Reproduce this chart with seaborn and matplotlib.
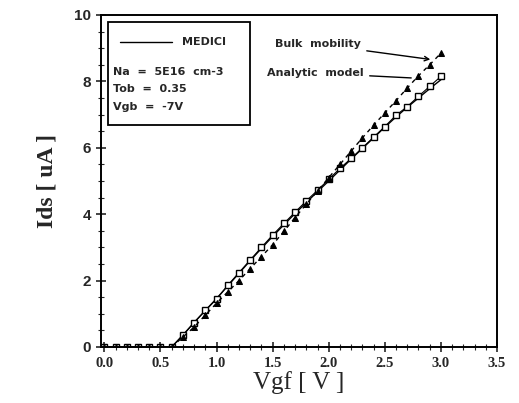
import numpy as np
import pandas as pd
import matplotlib
matplotlib.use("Agg")
import matplotlib.pyplot as plt
from matplotlib.lines import Line2D
from matplotlib.patches import Rectangle
from matplotlib.ticker import MultipleLocator
import seaborn as sns

# -----------------------------
# Data
# -----------------------------
vgf = [0.0, 0.1, 0.2, 0.3, 0.4, 0.5, 0.6, 0.7, 0.8, 0.9, 1.0,
       1.1, 1.2, 1.3, 1.4, 1.5, 1.6, 1.7, 1.8, 1.9, 2.0,
       2.1, 2.2, 2.3, 2.4, 2.5, 2.6, 2.7, 2.8, 2.9, 3.0]

ids_medici = [0.0, 0.0, 0.0, 0.0, 0.0, 0.0, 0.0, 0.36, 0.74, 1.1, 1.46,
              1.84, 2.22, 2.6, 2.97, 3.33, 3.68, 4.02, 4.35, 4.68, 5.0,
              5.33, 5.66, 5.98, 6.3, 6.62, 6.93, 7.22, 7.5, 7.78, 8.05]

ids_analytic = [0.0, 0.0, 0.0, 0.0, 0.0, 0.0, 0.0, 0.35, 0.73, 1.1, 1.44,
                1.86, 2.24, 2.62, 3.0, 3.37, 3.72, 4.06, 4.4, 4.72, 5.05,
                5.38, 5.68, 6.0, 6.32, 6.64, 6.98, 7.24, 7.55, 7.85, 8.15]

ids_bulk = [0.0, 0.0, 0.0, 0.0, 0.0, 0.0, 0.0, 0.3, 0.6, 0.96, 1.32,
            1.66, 2.0, 2.36, 2.72, 3.08, 3.48, 3.9, 4.3, 4.7, 5.1,
            5.5, 5.9, 6.3, 6.68, 7.05, 7.42, 7.8, 8.17, 8.5, 8.85]

legend_notes = ["Na  =  5E16  cm-3", "Tob  =  0.35", "Vgb  =  -7V"]

# -----------------------------
# Plot
# -----------------------------
sns.set_style("ticks")
plt.rcParams["font.family"] = ["DejaVu Sans"]

fig = plt.figure(figsize=(5.19, 4.03), dpi=100)
ax = fig.add_axes([0.1946, 0.139, 0.763, 0.8238])

sns.lineplot(x=vgf, y=ids_medici, ax=ax, color="black", linewidth=1.0)
sns.lineplot(x=vgf, y=ids_analytic, ax=ax, color="black", linewidth=0.8,
             marker="s", markersize=5, markerfacecolor="white",
             markeredgecolor="black", markeredgewidth=1.0)
sns.lineplot(x=vgf, y=ids_bulk, ax=ax, color="black", linewidth=1.0,
             linestyle=(0, (3, 3)), marker="^", markersize=5,
             markerfacecolor="black", markeredgecolor="black")

ax.set_xlim(-0.03, 3.5)
ax.set_ylim(0, 10)
ax.xaxis.set_minor_locator(MultipleLocator(0.1))
ax.yaxis.set_minor_locator(MultipleLocator(0.5))
ax.tick_params(which="major", direction="inout", length=7, width=1.2)
ax.tick_params(which="minor", direction="inout", length=4, width=0.8)
for sp in ax.spines.values():
    sp.set_linewidth(1.4)
    sp.set_color("black")

ax.set_xticks([0, 0.5, 1.0, 1.5, 2.0, 2.5, 3.0, 3.5])
ax.set_xticklabels(["0.0", "0.5", "1.0", "1.5", "2.0", "2.5", "3.0", "3.5"],
                   family=["Liberation Serif"], fontweight="bold", fontsize=10.5)
ax.set_yticks([0, 2, 4, 6, 8, 10])
ax.set_yticklabels(["0", "2", "4", "6", "8", "10"], family=["Liberation Sans"],
                   fontweight="bold", fontsize=11)

ax.set_xlabel("Vgf [ V ]", family=["Liberation Serif"], fontsize=18, labelpad=1)
ax.set_ylabel("Ids [ uA ]", family=["Liberation Serif"], fontsize=17,
              fontweight="bold", labelpad=12)

# boxed key: MEDICI line and the device parameters
ax.add_patch(Rectangle((0.018, 0.669), 0.358, 0.31, transform=ax.transAxes,
                       facecolor="white", edgecolor="black", linewidth=1.3, zorder=5))
ax.add_line(Line2D([0.048, 0.179], [0.919, 0.919], transform=ax.transAxes,
                   color="black", linewidth=1.0, zorder=6))
txt = dict(transform=ax.transAxes, fontsize=8, fontweight="bold", va="center", zorder=6)
ax.text(0.205, 0.919, "MEDICI", **txt)
for yy, note in zip([0.828, 0.778, 0.724], legend_notes):
    ax.text(0.03, yy, note, **txt)

ax.annotate("Bulk  mobility", xy=(2.93, 8.65), xytext=(1.52, 9.12),
            fontsize=8, fontweight="bold", va="center",
            arrowprops=dict(arrowstyle="->", color="black", lw=1.0))
ax.annotate("Analytic  model", xy=(2.76, 8.1), xytext=(1.45, 8.25),
            fontsize=8, fontweight="bold", va="center",
            arrowprops=dict(arrowstyle="-", color="black", lw=1.0))

plt.savefig("out.png", dpi=100)
